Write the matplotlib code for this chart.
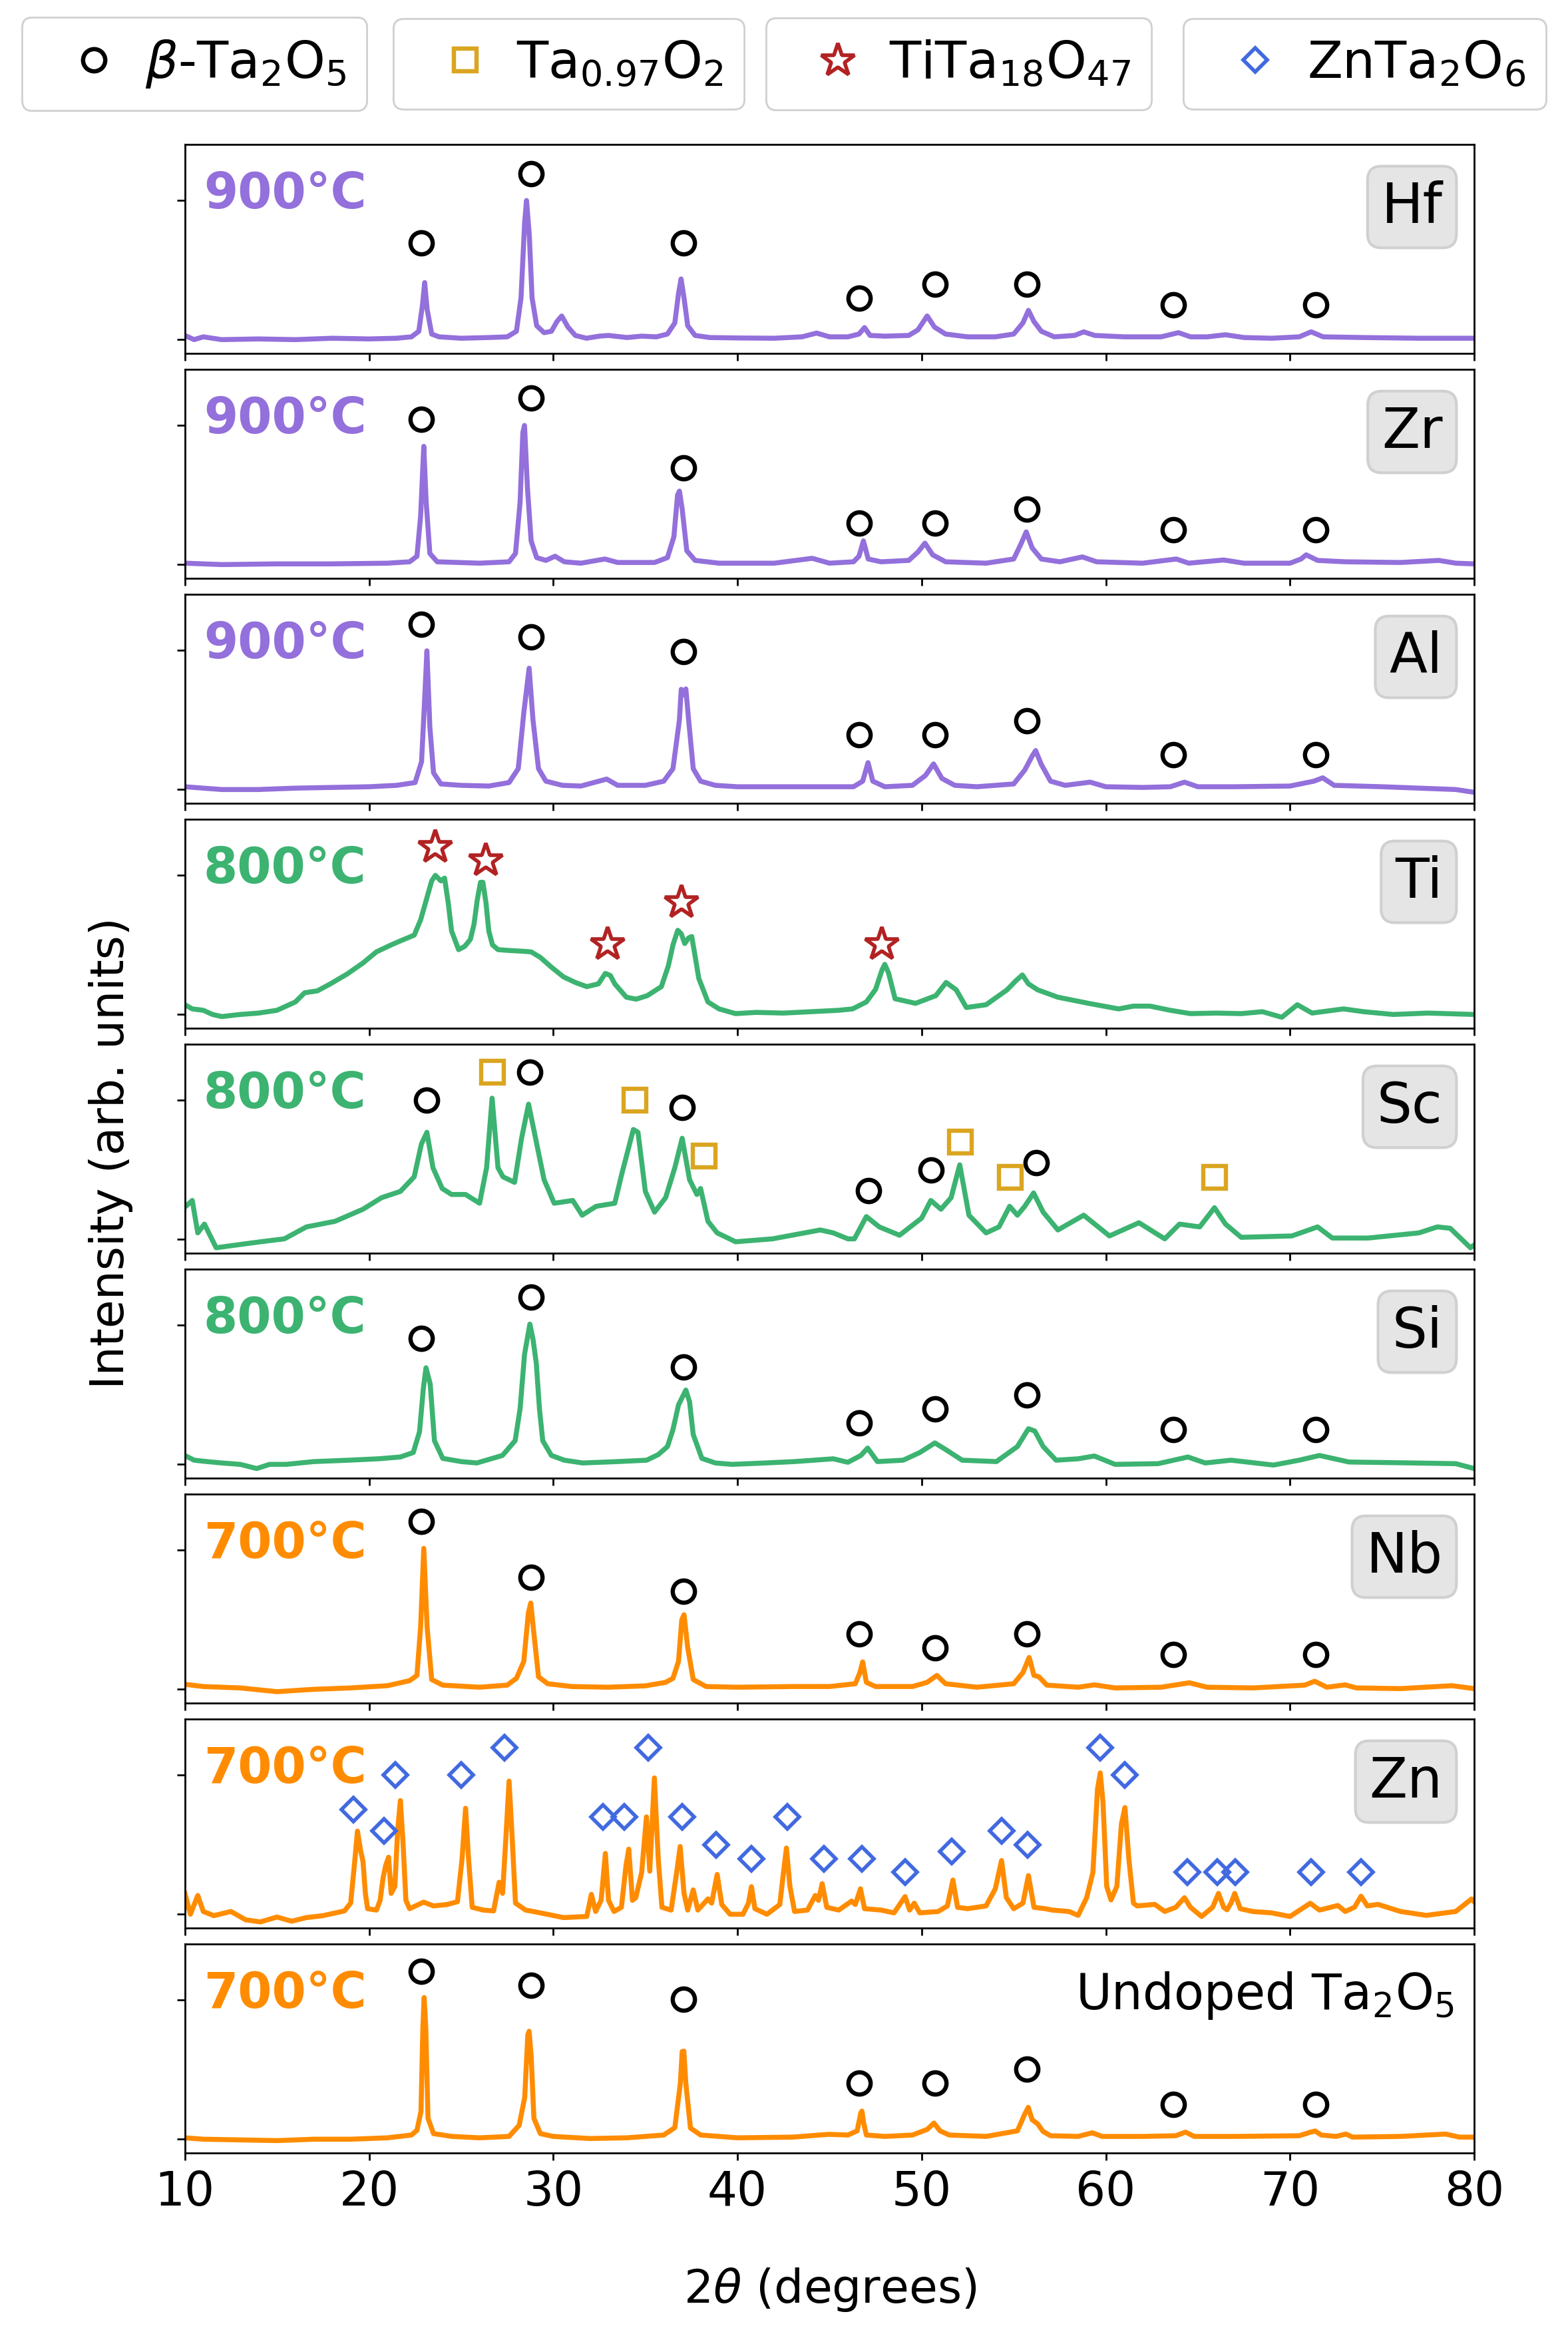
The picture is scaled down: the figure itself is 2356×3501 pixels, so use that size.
import matplotlib
matplotlib.use('Agg')
import matplotlib.pyplot as plt
from matplotlib.lines import Line2D

# ---------------- data ----------------
hf_x = [10.0, 10.5, 11.0, 12.0, 14, 16, 18, 20, 21.5, 22.3, 22.7, 22.9, 23.02, 23.15, 23.4, 23.8, 25, 26.5, 27.5, 28.0, 28.25,
        28.45, 28.55, 28.7, 28.85, 29.1, 29.5, 29.9, 30.2, 30.46, 30.8, 31.2, 31.8, 32.5, 33.0, 34.0, 34.8, 35.6, 36.2, 36.6,
        36.8, 36.94, 37.1, 37.3, 37.7, 38.5, 40, 42, 43.5, 44.3, 45, 46.0, 46.6, 46.9, 47.2, 48, 49.3, 49.8, 50.3, 50.7, 51.3,
        52.5, 54, 55.0, 55.5, 55.8, 56.1, 56.5, 57.2, 58.3, 58.8, 59.4, 61, 63.0, 63.95, 64.6, 65.5, 66.5, 67.5, 69, 70.5,
        71.15, 71.8, 74, 77, 80]
hf_y = [0.03, 0.0, 0.02, 0.0, 0.005, 0.0, 0.01, 0.005, 0.01, 0.02, 0.06, 0.25, 0.41, 0.22, 0.04, 0.02, 0.01, 0.015, 0.02, 0.06,
        0.3, 0.85, 1.0, 0.75, 0.3, 0.1, 0.05, 0.06, 0.13, 0.17, 0.09, 0.03, 0.01, 0.025, 0.03, 0.015, 0.025, 0.02, 0.04, 0.12,
        0.33, 0.436, 0.3, 0.1, 0.03, 0.015, 0.012, 0.01, 0.02, 0.047, 0.02, 0.02, 0.04, 0.087, 0.03, 0.025, 0.03, 0.07, 0.17,
        0.09, 0.04, 0.02, 0.02, 0.04, 0.12, 0.21, 0.13, 0.06, 0.02, 0.03, 0.056, 0.03, 0.02, 0.02, 0.05, 0.02, 0.02, 0.035,
        0.015, 0.01, 0.02, 0.056, 0.02, 0.015, 0.01, 0.01]

zr_x = [10, 12, 15, 18, 21, 22.2, 22.6, 22.8, 22.97, 23.1, 23.3, 23.7, 26, 27.6, 27.95, 28.2, 28.35, 28.44, 28.6, 28.8, 29.1,
        29.6, 30.1, 30.6, 31.5, 32.8, 33.5, 35.5, 36.2, 36.55, 36.75, 36.85, 37.0, 37.25, 37.7, 39, 42, 44.06, 45, 46.3, 46.6,
        46.84, 47.1, 47.8, 49.3, 49.8, 50.18, 50.6, 51.3, 53.5, 55.0, 55.4, 55.68, 56.0, 56.5, 57.5, 58.73, 59.5, 62, 63.83,
        64.5, 66.4, 67.5, 70, 70.6, 70.88, 71.5, 73, 76, 78.08, 79, 80]
zr_y = [0.01, 0.0, 0.005, 0.005, 0.01, 0.02, 0.06, 0.35, 0.85, 0.45, 0.08, 0.02, 0.01, 0.02, 0.08, 0.45, 0.95, 1.0, 0.55, 0.17,
        0.05, 0.03, 0.06, 0.02, 0.01, 0.04, 0.015, 0.015, 0.05, 0.2, 0.5, 0.528, 0.4, 0.1, 0.03, 0.01, 0.01, 0.045, 0.01, 0.02,
        0.06, 0.17, 0.04, 0.02, 0.03, 0.09, 0.154, 0.07, 0.02, 0.01, 0.04, 0.15, 0.235, 0.12, 0.04, 0.02, 0.055, 0.02, 0.01,
        0.04, 0.01, 0.033, 0.01, 0.01, 0.04, 0.07, 0.03, 0.02, 0.015, 0.03, 0.01, 0.005]

al_x = [10, 11, 12, 14, 16, 18, 20, 21.5, 22.5, 22.85, 23.0, 23.14, 23.3, 23.5, 23.9, 25, 26.5, 27.6, 28.1, 28.4, 28.69, 28.9,
        29.2, 29.6, 30.5, 31.5, 32.9, 33.5, 35, 36.0, 36.5, 36.85, 36.95, 37.08, 37.2, 37.35, 37.6, 38.0, 38.8, 40, 42, 44,
        46.3, 46.8, 47.09, 47.35, 48, 49.5, 50.2, 50.65, 51.1, 51.8, 53, 55.0, 55.6, 56.0, 56.19, 56.5, 57.0, 57.8, 59.15, 60,
        62, 63.5, 64.27, 65, 67, 70, 71.3, 71.78, 72.4, 75, 77, 79, 80]
al_y = [0.02, 0.01, 0.0, 0.0, 0.01, 0.015, 0.02, 0.03, 0.05, 0.2, 0.6, 0.997, 0.45, 0.12, 0.04, 0.03, 0.025, 0.05, 0.15, 0.55,
        0.872, 0.5, 0.15, 0.06, 0.03, 0.025, 0.075, 0.03, 0.03, 0.06, 0.15, 0.5, 0.72, 0.68, 0.723, 0.5, 0.15, 0.06, 0.03, 0.02,
        0.02, 0.02, 0.02, 0.06, 0.193, 0.06, 0.02, 0.03, 0.1, 0.184, 0.08, 0.03, 0.02, 0.04, 0.14, 0.24, 0.28, 0.18, 0.06, 0.03,
        0.053, 0.02, 0.015, 0.02, 0.053, 0.02, 0.02, 0.025, 0.06, 0.084, 0.03, 0.02, 0.01, 0.0, -0.02]

ti_x = [10.0, 10.4, 11.0, 11.5, 12.0, 13, 14, 15, 16.0, 16.5, 17.2, 17.9, 18.8, 19.67, 20.4, 21.2, 21.9, 22.45, 22.8, 23.1,
        23.4, 23.6, 23.9, 24.1, 24.3, 24.48, 24.86, 25.2, 25.5, 25.7, 25.87, 26.05, 26.18, 26.35, 26.5, 26.7, 27.0, 27.6,
        28.28, 28.8, 29.3, 29.9, 30.56, 31.2, 31.82, 32.45, 32.83, 33.1, 33.34, 33.97, 34.5, 35.1, 35.87, 36.25, 36.5, 36.76,
        36.95, 37.14, 37.35, 37.52, 37.7, 37.9, 38.4, 39.0, 39.9, 41, 42.5, 44, 45.5, 46.25, 47.0, 47.5, 47.85, 48.0, 48.2,
        48.56, 49.67, 50.77, 51.33, 51.88, 52.43, 53.5, 54.64, 55.1, 55.47, 55.8, 56.3, 57.4, 59.06, 60.7, 61.5, 62.4, 63.5,
        64.6, 66, 67.35, 68.5, 69.56, 70.4, 71.2, 72.9, 74, 75.6, 77.5, 80]
ti_y = [0.07, 0.04, 0.03, 0.0, -0.015, 0.0, 0.01, 0.03, 0.09, 0.156, 0.17, 0.22, 0.29, 0.37, 0.45, 0.5, 0.54, 0.57, 0.68, 0.82,
        0.96, 1.0, 0.96, 0.98, 0.8, 0.6, 0.466, 0.49, 0.54, 0.65, 0.82, 0.95, 0.95, 0.8, 0.6, 0.5, 0.466, 0.46, 0.455, 0.45,
        0.41, 0.34, 0.27, 0.23, 0.2, 0.22, 0.295, 0.28, 0.22, 0.124, 0.11, 0.135, 0.2, 0.35, 0.5, 0.605, 0.58, 0.51, 0.55, 0.56,
        0.42, 0.26, 0.09, 0.04, 0.006, 0.015, 0.01, 0.02, 0.03, 0.04, 0.09, 0.18, 0.32, 0.36, 0.3, 0.113, 0.08, 0.135, 0.23,
        0.177, 0.05, 0.07, 0.177, 0.24, 0.284, 0.22, 0.177, 0.124, 0.08, 0.04, 0.06, 0.06, 0.03, 0.006, 0.01, 0.006, 0.02,
        -0.02, 0.07, 0.01, 0.04, 0.02, 0.0, 0.01, 0.0]

sc_x = [10.05, 10.4, 10.7, 11.06, 11.7, 12.8, 14.1, 15.4, 16.6, 18.15, 19.67, 20.68, 21.7, 22.45, 22.84, 23.14, 23.47, 23.97,
        24.48, 25.24, 26.0, 26.38, 26.68, 27.0, 27.27, 27.9, 28.28, 28.66, 29.04, 29.5, 30.05, 31.06, 31.57, 32.33, 33.34,
        33.72, 34.35, 34.6, 35.0, 35.5, 36.1, 36.6, 37.0, 37.4, 37.8, 38.0, 38.4, 38.9, 39.9, 41.9, 44.5, 45.2, 46.0, 46.35,
        47.0, 47.7, 48.8, 50.0, 50.5, 51.05, 51.6, 52.07, 52.57, 53.5, 54.2, 54.78, 55.2, 55.6, 56.08, 56.6, 57.4, 58.8, 60.2,
        61.8, 63.2, 64.0, 65.1, 65.9, 66.5, 67.35, 70.1, 71.5, 72.3, 74.25, 77.0, 78.0, 78.7, 79.8, 80.0]
sc_y = [0.238, 0.28, 0.047, 0.11, -0.06, -0.04, -0.017, 0.004, 0.09, 0.13, 0.217, 0.30, 0.345, 0.45, 0.685, 0.77, 0.515, 0.366,
        0.323, 0.323, 0.26, 0.515, 1.015, 0.515, 0.45, 0.41, 0.727, 0.972, 0.727, 0.43, 0.26, 0.28, 0.174, 0.238, 0.26, 0.47,
        0.79, 0.77, 0.345, 0.196, 0.30, 0.515, 0.727, 0.43, 0.323, 0.366, 0.13, 0.047, -0.017, 0.004, 0.068, 0.047, 0.004,
        0.004, 0.164, 0.09, 0.03, 0.153, 0.28, 0.217, 0.30, 0.536, 0.174, 0.047, 0.09, 0.238, 0.174, 0.238, 0.334, 0.196,
        0.068, 0.174, 0.025, 0.12, 0.004, 0.11, 0.09, 0.228, 0.11, 0.015, 0.025, 0.09, 0.01, 0.01, 0.047, 0.09, 0.08, -0.06,
        -0.04]

si_x = [10.0, 10.5, 11.2, 12.0, 13.0, 13.9, 14.6, 15.5, 17, 18.9, 20.5, 21.7, 22.4, 22.74, 22.95, 23.09, 23.32, 23.55, 24.0,
        25.0, 25.85, 27.24, 27.93, 28.2, 28.44, 28.73, 28.9, 29.08, 29.25, 29.43, 29.9, 30.6, 31.6, 33.5, 35.07, 35.7, 36.2,
        36.5, 36.8, 37.2, 37.4, 37.6, 38.07, 38.8, 39.7, 41.5, 43.1, 45.2, 46.0, 46.7, 47.07, 47.6, 49.0, 49.9, 50.72, 51.3,
        52.2, 54.06, 55.2, 55.8, 56.14, 56.6, 57.3, 58.5, 59.38, 60.5, 62.84, 64.46, 65.4, 66.8, 69.1, 70.5, 71.6, 73.2, 76.7,
        79, 80]
si_y = [0.064, 0.03, 0.02, 0.01, 0.0, -0.03, 0.0, 0.0, 0.02, 0.03, 0.04, 0.053, 0.085, 0.235, 0.55, 0.694, 0.577, 0.17, 0.043,
        0.02, 0.01, 0.064, 0.17, 0.4, 0.79, 1.008, 0.9, 0.726, 0.4, 0.17, 0.064, 0.03, 0.01, 0.02, 0.03, 0.07, 0.128, 0.25,
        0.427, 0.534, 0.45, 0.214, 0.043, 0.01, 0.0, 0.01, 0.02, 0.04, 0.015, 0.064, 0.117, 0.02, 0.03, 0.085, 0.154, 0.107,
        0.03, 0.02, 0.128, 0.256, 0.24, 0.128, 0.03, 0.04, 0.06, 0.0, 0.005, 0.053, 0.01, 0.03, -0.005, 0.03, 0.064, 0.017,
        0.01, 0.005, -0.03]

nb_x = [10.0, 11, 13, 15, 17, 19, 21, 22.2, 22.6, 22.8, 22.97, 23.15, 23.4, 24, 26, 27.5, 28.0, 28.4, 28.65, 28.78, 28.95, 29.2,
        29.7, 31, 33, 35, 36.1, 36.5, 36.8, 36.98, 37.1, 37.3, 37.6, 38.3, 40, 43, 45, 46.4, 46.65, 46.8, 47.0, 47.5, 49.5,
        50.3, 50.83, 51.3, 53, 55.0, 55.5, 55.84, 56.1, 56.37, 56.8, 58.5, 59.38, 60.5, 63, 64.53, 65.5, 68, 70.8, 71.34, 72,
        73.0, 73.6, 76, 78.8, 80]
nb_y = [0.036, 0.02, 0.01, -0.017, 0.0, 0.01, 0.026, 0.062, 0.1, 0.45, 1.013, 0.45, 0.07, 0.03, 0.015, 0.03, 0.079, 0.2, 0.55,
        0.62, 0.4, 0.09, 0.04, 0.02, 0.015, 0.025, 0.05, 0.079, 0.2, 0.5, 0.536, 0.3, 0.07, 0.02, 0.015, 0.02, 0.02, 0.04, 0.12,
        0.197, 0.05, 0.02, 0.02, 0.05, 0.10, 0.04, 0.015, 0.04, 0.12, 0.229, 0.1, 0.09, 0.03, 0.015, 0.032, 0.01, 0.015, 0.047,
        0.015, 0.01, 0.03, 0.058, 0.015, 0.032, 0.01, 0.005, 0.026, 0.005]

zn_x = [10.0, 10.3, 10.7, 11.0, 11.57, 12.5, 13.3, 14.1, 15, 15.8, 16.6, 17.5, 18.66, 19.0, 19.2, 19.37, 19.55, 19.67, 19.8,
        19.92, 20.4, 20.6, 20.76, 20.9, 21.06, 21.2, 21.4, 21.55, 21.7, 21.85, 22.0, 22.2, 22.96, 23.5, 24.23, 24.8, 25.05,
        25.24, 25.4, 25.6, 26.2, 26.76, 27.06, 27.25, 27.45, 27.6, 27.75, 27.95, 28.5, 29.3, 30.56, 31.82, 32.07, 32.3, 32.6,
        32.83, 33.0, 33.3, 33.7, 33.95, 34.1, 34.3, 34.48, 34.8, 35.06, 35.24, 35.49, 35.7, 35.9, 36.4, 36.7, 36.89, 37.1,
        37.3, 37.6, 37.85, 38.4, 38.6, 38.9, 39.15, 39.6, 40.3, 40.6, 40.76, 40.95, 41.6, 42.3, 42.5, 42.66, 42.85, 43.1,
        43.8, 44.23, 44.4, 44.6, 44.85, 45.5, 46.2, 46.4, 46.68, 46.9, 47.8, 48.5, 49.1, 49.35, 49.6, 49.9, 50.9, 51.4, 51.7,
        51.95, 52.5, 53.5, 54.0, 54.34, 54.6, 55.0, 55.5, 55.8, 56.1, 56.7, 57.1, 58.0, 58.5, 58.96, 59.3, 59.55, 59.7, 59.85,
        60.05, 60.28, 60.6, 60.85, 61.04, 61.25, 61.5, 61.7, 62.66, 63.2, 63.8, 64.27, 64.6, 65.2, 65.8, 66.12, 66.4, 66.58,
        66.8, 67.0, 67.3, 67.97, 69, 70.0, 71.1, 71.6, 72.6, 73.0, 73.5, 73.86, 74.2, 74.78, 76, 77.4, 79, 79.86, 80]
zn_y = [0.15, 0.0, 0.135, 0.02, -0.01, 0.02, -0.04, -0.055, -0.02, -0.05, -0.024, -0.01, 0.024, 0.08, 0.35, 0.598, 0.45, 0.38,
        0.15, 0.04, 0.03, 0.1, 0.26, 0.35, 0.41, 0.15, 0.2, 0.6, 0.817, 0.5, 0.1, 0.04, 0.087, 0.06, 0.07, 0.09, 0.4, 0.762,
        0.4, 0.05, 0.03, 0.024, 0.23, 0.15, 0.6, 0.957, 0.6, 0.08, 0.03, 0.01, -0.024, -0.016, 0.143, 0.02, 0.1, 0.437, 0.1,
        0.02, 0.05, 0.35, 0.468, 0.1, 0.119, 0.3, 0.70, 0.31, 0.98, 0.4, 0.05, 0.03, 0.3, 0.487, 0.15, 0.03, 0.175, 0.03, 0.11,
        0.08, 0.286, 0.07, 0.0, 0.0, 0.08, 0.198, 0.04, 0.0, 0.07, 0.3, 0.476, 0.2, 0.02, 0.03, 0.135, 0.1, 0.22, 0.05, 0.03,
        0.095, 0.07, 0.183, 0.04, 0.03, 0.01, 0.127, 0.03, 0.08, 0.01, 0.02, 0.06, 0.246, 0.05, 0.04, 0.06, 0.183, 0.386,
        0.12, 0.04, 0.08, 0.278, 0.05, 0.04, 0.03, 0.02, -0.008, 0.119, 0.3, 0.9, 1.016, 0.8, 0.2, 0.103, 0.2, 0.65, 0.767,
        0.4, 0.08, 0.06, 0.071, 0.02, 0.05, 0.119, 0.05, -0.016, 0.05, 0.15, 0.05, 0.032, 0.08, 0.15, 0.04, 0.02, 0.01,
        -0.016, 0.079, 0.03, 0.063, 0.02, 0.05, 0.13, 0.06, 0.071, 0.02, -0.008, 0.02, 0.11, 0.09]

un_x = [10, 11, 13, 15, 17, 19, 21, 22.3, 22.6, 22.82, 22.92, 22.99, 23.08, 23.2, 23.5, 24.5, 26, 27.6, 28.15, 28.45, 28.62,
        28.69, 28.8, 28.95, 29.3, 30, 32, 34, 36.0, 36.6, 36.9, 37.0, 37.09, 37.2, 37.45, 38.0, 40, 43, 44.95, 46.0, 46.5,
        46.7, 46.76, 46.85, 47.0, 48, 49.5, 50.3, 50.67, 51.0, 51.5, 53.5, 55.2, 55.6, 55.79, 56.0, 56.3, 56.6, 57, 58.5,
        59.26, 59.8, 62, 63.8, 64.33, 64.8, 67, 70.5, 71.1, 71.36, 71.7, 72.5, 73.04, 73.4, 76, 78.45, 79.2, 80]
un_y = [0.01, 0.0, -0.005, -0.01, 0.0, 0.0, 0.01, 0.03, 0.064, 0.2, 0.8, 1.018, 0.8, 0.15, 0.04, 0.02, 0.01, 0.02, 0.1, 0.3,
        0.75, 0.776, 0.6, 0.15, 0.04, 0.02, 0.005, 0.01, 0.03, 0.083, 0.4, 0.63, 0.633, 0.4, 0.08, 0.03, 0.01, 0.015, 0.035,
        0.03, 0.06, 0.19, 0.202, 0.12, 0.03, 0.02, 0.03, 0.07, 0.116, 0.06, 0.03, 0.02, 0.06, 0.18, 0.229, 0.14, 0.11, 0.055,
        0.025, 0.02, 0.046, 0.02, 0.02, 0.025, 0.051, 0.02, 0.02, 0.025, 0.05, 0.059, 0.03, 0.02, 0.037, 0.015, 0.02, 0.037,
        0.015, 0.015]

# phase markers
beta_pos = [22.84, 28.8, 37.08, 46.6, 50.72, 55.73, 63.65, 71.39]
hf_circ_y = [0.695, 1.193, 0.695, 0.299, 0.399, 0.399, 0.249, 0.249]
zr_circ_y = [1.045, 1.198, 0.693, 0.298, 0.298, 0.397, 0.248, 0.248]
al_circ_y = [1.19, 1.097, 0.994, 0.396, 0.396, 0.495, 0.249, 0.249]
si_circ_y = [0.904, 1.203, 0.70, 0.30, 0.40, 0.498, 0.25, 0.25]
nb_circ_y = [1.205, 0.806, 0.703, 0.40, 0.30, 0.40, 0.25, 0.25]
un_circ_y = [1.206, 1.105, 1.004, 0.404, 0.404, 0.505, 0.251, 0.251]

sc_circ_x = [23.14, 28.73, 37.0, 47.13, 50.5, 56.24]
sc_circ_y = [1.0, 1.2, 0.951, 0.351, 0.5, 0.551]
sc_sq_x = [26.7, 34.43, 38.2, 52.1, 54.8, 65.9]
sc_sq_y = [1.2, 1.0, 0.6, 0.7, 0.447, 0.447]

ti_star_x = [23.6, 26.33, 32.96, 36.96, 47.85]
ti_star_y = [1.203, 1.105, 0.504, 0.803, 0.504]

zn_dia_x = [19.14, 20.81, 21.44, 24.99, 27.34, 32.71, 33.87, 35.16, 36.99, 38.83, 40.76, 42.71, 44.68, 46.76,
            49.1, 51.64, 54.34, 55.77, 59.7, 61.02, 64.41, 66.05, 67.02, 71.16, 73.86]
zn_dia_y = [0.751, 0.60, 1.0, 1.0, 1.198, 0.702, 0.702, 1.198, 0.702, 0.50, 0.40, 0.702, 0.40, 0.40,
            0.302, 0.452, 0.60, 0.50, 1.198, 1.0, 0.302, 0.302, 0.302, 0.302, 0.302]

dopants = ['Hf', 'Zr', 'Al', 'Ti', 'Sc', 'Si', 'Nb', 'Zn', 'Undoped Ta$_2$O$_5$']
temps = ['900°C', '900°C', '900°C', '800°C', '800°C', '800°C', '700°C', '700°C', '700°C']
legend_labels = [r'$\beta$-Ta$_2$O$_5$', 'Ta$_{0.97}$O$_2$', 'TiTa$_{18}$O$_{47}$', 'ZnTa$_2$O$_6$']

# ---------------- styles ----------------
PURPLE, GREEN, ORANGE = '#9370DB', '#3CB371', '#FF8C00'
temp_colors = {'900°C': PURPLE, '800°C': GREEN, '700°C': ORANGE}

circ_style = dict(marker='o', ms=12, mfc='none', mec='black', mew=2.3, ls='none')
sq_style = dict(marker='s', ms=12, mfc='none', mec='#DAA520', mew=2.3, ls='none')
star_style = dict(marker='*', ms=19, mfc='none', mec='#B22222', mew=2.0, ls='none')
dia_style = dict(marker='D', ms=9, mfc='none', mec='#4169E1', mew=2.0, ls='none')

series = [(hf_x, hf_y), (zr_x, zr_y), (al_x, al_y), (ti_x, ti_y), (sc_x, sc_y),
          (si_x, si_y), (nb_x, nb_y), (zn_x, zn_y), (un_x, un_y)]

W_PX, H_PX = 2356, 3501
DPI = 200
fig = plt.figure(figsize=(W_PX / DPI, H_PX / DPI), dpi=DPI)

ax_left, ax_w = 277.8 / W_PX, 1937.2 / W_PX
top0, period, ph = 216.8, 338.0, 314.0

axes = []
for i in range(9):
    bottom = 1 - (top0 + i * period + ph) / H_PX
    ax = fig.add_axes([ax_left, bottom, ax_w, ph / H_PX])
    axes.append(ax)
    xs, ys = series[i]
    col = temp_colors[temps[i]]
    ax.plot(xs, ys, color=col, lw=2.7, solid_joinstyle='round')
    ax.set_xlim(10, 80)
    ax.set_ylim(-0.098, 1.404)
    ax.set_yticks([0, 1])
    ax.set_yticklabels([])
    ax.set_xticks(range(10, 81, 10))
    ax.tick_params(axis='x', length=4, width=1.0, pad=5, labelsize=25.5)
    ax.tick_params(axis='y', length=4.5, width=1.0)
    for s in ax.spines.values():
        s.set_linewidth(1.0)
    if i < 8:
        ax.set_xticklabels([])
    ax.text(0.0145, 0.695, temps[i], transform=ax.transAxes, color=col,
            fontsize=26.5, fontweight='bold', ha='left', va='baseline')
    if i < 8:
        ax.text(0.9755, 0.625, dopants[i], transform=ax.transAxes, fontsize=30,
                ha='right', va='baseline',
                bbox=dict(boxstyle='round,pad=0.25', fc='#e5e5e5', ec='#d0d0d0', lw=1.5))
    else:
        ax.text(0.9845, 0.688, dopants[i], transform=ax.transAxes, fontsize=26.5,
                ha='right', va='baseline')

# markers
axes[0].plot(beta_pos, hf_circ_y, **circ_style)
axes[1].plot(beta_pos, zr_circ_y, **circ_style)
axes[2].plot(beta_pos, al_circ_y, **circ_style)
axes[3].plot(ti_star_x, ti_star_y, **star_style)
axes[4].plot(sc_circ_x, sc_circ_y, **circ_style)
axes[4].plot(sc_sq_x, sc_sq_y, **sq_style)
axes[5].plot(beta_pos, si_circ_y, **circ_style)
axes[6].plot(beta_pos, nb_circ_y, **circ_style)
axes[7].plot(zn_dia_x, zn_dia_y, **dia_style)
axes[8].plot(beta_pos, un_circ_y, **circ_style)

# legends (four separate boxes)
handles = [Line2D([], [], **circ_style), Line2D([], [], **sq_style),
           Line2D([], [], **star_style), Line2D([], [], **dia_style)]
centers = [0.1239, 0.3627, 0.6114, 0.8703]
for h, lab, cx in zip(handles, legend_labels, centers):
    leg = fig.legend([h], [lab], loc='center', bbox_to_anchor=(cx, 0.9726),
                     fontsize=27.8, handletextpad=0.0, frameon=True)
    fig.add_artist(leg)

fig.text(0.5295, 0.0174, r'2$\theta$ (degrees)', fontsize=25, ha='center', va='center')
fig.text(0.0705, 0.505, 'Intensity (arb. units)', fontsize=25, ha='center', va='center',
         rotation=90)

fig.savefig('out.png', dpi=DPI)
